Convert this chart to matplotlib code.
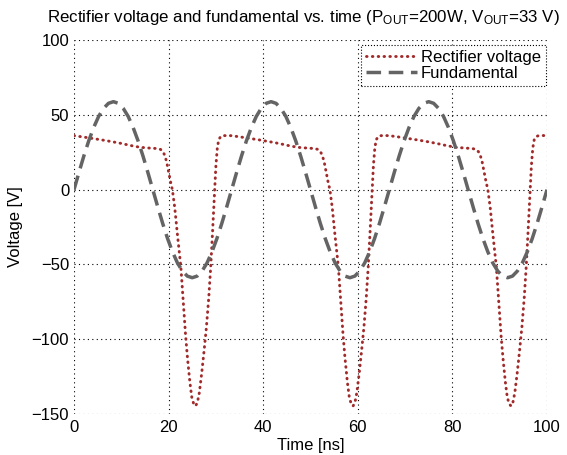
import numpy as np
import matplotlib
matplotlib.use("Agg")
import matplotlib.pyplot as plt
from matplotlib.legend_handler import HandlerLine2D

plt.rcParams['font.family'] = ['Liberation Sans', 'DejaVu Sans']
plt.rcParams['mathtext.fontset'] = 'custom'
plt.rcParams['mathtext.rm'] = 'Liberation Sans'
plt.rcParams['mathtext.it'] = 'Liberation Sans:italic'

# rectifier voltage (ns, V)
rect_time = [
    0.0, 2.0, 4.0, 6.0, 8.0, 10.0, 12.0, 14.0, 16.0, 17.5, 18.3, 18.8, 19.2, 19.6, 20.0,
    20.4, 20.8, 21.3, 21.8, 22.2, 22.6, 23.0, 23.6, 24.0, 24.5, 24.9, 25.3, 25.7, 26.1,
    26.5, 27.0, 27.5, 28.0, 28.5, 28.9, 29.3, 29.7, 30.0, 30.3, 30.6, 31.0, 31.5, 32.5,
    33.3, 35.3, 37.3, 39.3, 41.3, 43.3, 45.3, 47.3, 49.3, 50.8, 51.6, 52.1, 52.5, 52.9, 53.3,
    53.7, 54.1, 54.6, 55.1, 55.5, 55.9, 56.3, 56.9, 57.3, 57.8, 58.2, 58.6, 59.0, 59.4,
    59.8, 60.3, 60.8, 61.3, 61.8, 62.2, 62.6, 63.0, 63.3, 63.6, 63.9, 64.3, 64.8, 65.8,
    66.7, 68.7, 70.7, 72.7, 74.7, 76.7, 78.7, 80.7, 82.7, 84.2, 85.0, 85.5, 85.9, 86.3, 86.7,
    87.1, 87.5, 88.0, 88.5, 88.9, 89.3, 89.7, 90.3, 90.7, 91.2, 91.6, 92.0, 92.4, 92.8,
    93.2, 93.7, 94.2, 94.7, 95.2, 95.6, 96.0, 96.4, 96.7, 97.0, 97.3, 97.7, 98.2, 99.2,
    100.0,
]
rect_cycle = [
    36.2, 35.3, 34.3, 33.3, 32.2, 31.0, 29.6, 28.4, 27.9, 27.6, 27.0, 25.5, 23.0, 18.5, 12.0,
    5.5, 0.0, -12.0, -28.0, -40.0, -52.0, -70.0, -98.0, -113.0, -129.0, -139.0, -143.5, -145.0, -142.5,
    -136.0, -123.0, -108.0, -92.0, -72.0, -52.0, -28.0, -2.0, 16.0, 28.0, 33.5, 35.6, 36.2, 36.3,
]
rect_volt = rect_cycle * 3 + [36.2]

# fundamental, one period of 32 samples
fund_cycle = [
    0.0, 11.5, 22.6, 32.8, 41.7, 49.1, 54.5, 57.9, 59.0, 57.9, 54.5, 49.1, 41.7, 32.8, 22.6, 11.5,
    0.0, -11.5, -22.6, -32.8, -41.7, -49.1, -54.5, -57.9, -59.0, -57.9, -54.5, -49.1, -41.7, -32.8,
    -22.6, -11.5,
]
fund_volt = fund_cycle * 3 + [0.0]
fund_time = np.linspace(0, 100, len(fund_volt))

x_ticks = [0, 20, 40, 60, 80, 100]
y_ticks = [-150, -100, -50, 0, 50, 100]

FS = 12


class LeadHandler(HandlerLine2D):
    # matlab-style legend: empty space left of the sample line
    def create_artists(self, legend, orig_handle, xdescent, ydescent, width, height,
                       fontsize, trans):
        arts = super().create_artists(legend, orig_handle, xdescent, ydescent, width,
                                      height, fontsize, trans)
        lead = 0.85 * fontsize
        for a in arts:
            x = np.asarray(a.get_xdata(), dtype=float)
            if len(x) == 2:
                a.set_xdata([x[0] + lead, x[1]])
        return arts


fig = plt.figure(figsize=(5.67, 4.55), dpi=100)
ax = fig.add_axes([0.1305, 0.0912, 0.8342, 0.8198])

ax.plot(rect_time, rect_volt, linestyle=(0, (0.2, 1.8)), dash_capstyle='round',
        color='#a12a2a', lw=2.1, label='Rectifier voltage')
ax.plot(fund_time, fund_volt, linestyle=(0, (4.2, 2.2)), color='#646464', lw=2.5,
        label='Fundamental')

ax.set_xlim(0, 100)
ax.set_ylim(-150, 100)
ax.set_xticks(x_ticks)
ax.set_yticks(y_ticks)
ax.tick_params(length=0, labelsize=FS)
ax.tick_params(axis='x', pad=4.5)
ax.tick_params(axis='y', pad=3.5)
for s in ax.spines.values():
    s.set_visible(False)
ax.grid(True, linestyle=(0, (1, 3)), color='black', lw=0.8)
ax.set_axisbelow(True)

ax.set_xlabel('Time [ns]', fontsize=FS, labelpad=2)
ax.set_ylabel('Voltage [V]', fontsize=FS, labelpad=6)
ax.set_title(r'Rectifier voltage and fundamental vs. time (P$_{\mathrm{OUT}}$=200W, V$_{\mathrm{OUT}}$=33 V)',
             fontsize=12.2, pad=13, x=0.485)

leg = ax.legend(loc='upper right', bbox_to_anchor=(0.998, 0.988), borderaxespad=0,
                fontsize=FS, handlelength=3.05, handletextpad=0.25,
                labelspacing=0.05, borderpad=0.3, fancybox=False, framealpha=1,
                handler_map={matplotlib.lines.Line2D: LeadHandler()})
leg.get_frame().set_edgecolor('black')
leg.get_frame().set_linestyle(':')
leg.get_frame().set_linewidth(0.8)

fig.savefig('out.png', dpi=100)
